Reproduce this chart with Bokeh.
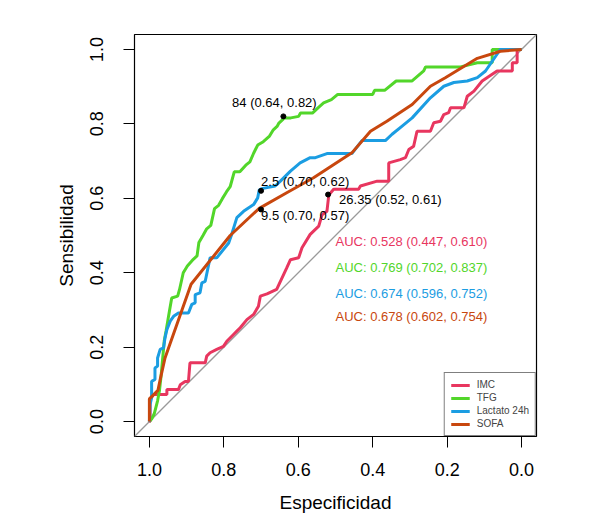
from bokeh.plotting import figure
from bokeh.models import Range1d, FixedTicker, NumeralTickFormatter
from bokeh.embed import file_html
from bokeh.resources import INLINE
from bokeh.core.properties import value

FONT = "Liberation Sans"

# ---- data (specificity, sensitivity) ----
imc_spec = [1.0, 0.998, 0.998, 0.989, 0.953, 0.953, 0.922, 0.917, 0.904, 0.895, 0.891, 0.850, 0.846, 0.837,
            0.819, 0.801, 0.792, 0.774, 0.765, 0.756, 0.738, 0.720, 0.707, 0.702, 0.684, 0.658, 0.648, 0.631,
            0.621, 0.599, 0.590, 0.568, 0.545, 0.536, 0.523, 0.518, 0.505, 0.438, 0.433, 0.388, 0.357, 0.357,
            0.326, 0.312, 0.303, 0.290, 0.281, 0.245, 0.236, 0.218, 0.209, 0.196, 0.191, 0.155, 0.146, 0.128,
            0.106, 0.093, 0.066, 0.025, 0.025, 0.012, 0.012, 0.0]
imc_sens = [0.0, 0.0, 0.059, 0.073, 0.073, 0.086, 0.086, 0.099, 0.108, 0.108, 0.158, 0.158, 0.176, 0.185,
            0.194, 0.202, 0.216, 0.234, 0.243, 0.252, 0.274, 0.288, 0.310, 0.337, 0.343, 0.355, 0.377, 0.413,
            0.435, 0.440, 0.467, 0.503, 0.525, 0.556, 0.565, 0.609, 0.624, 0.624, 0.633, 0.646, 0.646, 0.695,
            0.704, 0.709, 0.731, 0.740, 0.780, 0.780, 0.803, 0.807, 0.825, 0.830, 0.843, 0.843, 0.874, 0.888,
            0.915, 0.924, 0.942, 0.942, 0.964, 0.964, 1.0, 1.0]

tfg_spec = [1.0, 0.994, 0.987, 0.978, 0.973, 0.969, 0.964, 0.960, 0.955, 0.946, 0.940, 0.924, 0.919, 0.909,
            0.898, 0.882, 0.872, 0.867, 0.856, 0.846, 0.835, 0.825, 0.814, 0.804, 0.793, 0.783, 0.772, 0.757,
            0.741, 0.730, 0.720, 0.709, 0.694, 0.678, 0.667, 0.657, 0.652, 0.637, 0.620, 0.599, 0.594, 0.562,
            0.547, 0.532, 0.511, 0.494, 0.400, 0.395, 0.368, 0.337, 0.295, 0.263, 0.258, 0.164, 0.119, 0.079,
            0.079, 0.0]
tfg_sens = [0.0, 0.007, 0.021, 0.056, 0.083, 0.119, 0.173, 0.218, 0.245, 0.298, 0.332, 0.337, 0.355, 0.400,
            0.418, 0.436, 0.445, 0.481, 0.500, 0.518, 0.527, 0.572, 0.581, 0.599, 0.617, 0.631, 0.671, 0.671,
            0.689, 0.698, 0.721, 0.743, 0.752, 0.766, 0.784, 0.793, 0.802, 0.816, 0.816, 0.820, 0.829, 0.829,
            0.843, 0.856, 0.865, 0.879, 0.879, 0.890, 0.890, 0.915, 0.915, 0.942, 0.953, 0.953, 0.964, 0.964,
            1.0, 1.0]

lac_spec = [1.0, 0.998, 0.994, 0.994, 0.985, 0.985, 0.978, 0.978, 0.971, 0.962, 0.958, 0.953, 0.944, 0.935,
            0.922, 0.895, 0.886, 0.877, 0.877, 0.864, 0.859, 0.850, 0.837, 0.819, 0.787, 0.779, 0.765, 0.747,
            0.734, 0.720, 0.709, 0.705, 0.698, 0.662, 0.648, 0.621, 0.595, 0.568, 0.554, 0.523, 0.456, 0.429,
            0.366, 0.348, 0.321, 0.294, 0.245, 0.209, 0.182, 0.146, 0.119, 0.097, 0.066, 0.057, 0.0]
lac_sens = [0.0, 0.046, 0.064, 0.108, 0.113, 0.144, 0.149, 0.171, 0.194, 0.198, 0.225, 0.247, 0.270, 0.283,
            0.292, 0.292, 0.315, 0.319, 0.341, 0.346, 0.373, 0.377, 0.440, 0.440, 0.480, 0.503, 0.548, 0.565,
            0.574, 0.583, 0.601, 0.622, 0.626, 0.633, 0.646, 0.673, 0.695, 0.709, 0.709, 0.720, 0.720, 0.755,
            0.755, 0.772, 0.794, 0.816, 0.870, 0.901, 0.911, 0.915, 0.924, 0.942, 0.987, 1.0, 1.0]

sofa_spec = [1.0, 1.0, 0.977, 0.971, 0.958, 0.888, 0.783, 0.705, 0.631, 0.559, 0.456, 0.406, 0.362, 0.294,
             0.245, 0.205, 0.119, 0.057, 0.0]
sofa_sens = [0.0, 0.061, 0.084, 0.113, 0.171, 0.369, 0.500, 0.573, 0.615, 0.655, 0.722, 0.780, 0.807, 0.852,
             0.901, 0.924, 0.976, 0.995, 1.0]

series_names = ["IMC", "TFG", "Lactato 24h", "SOFA"]
series_colors = ["#E8365F", "#52D62A", "#1B9DE2", "#C8470E"]

auc_labels = ["AUC: 0.528 (0.447, 0.610)", "AUC: 0.769 (0.702, 0.837)",
              "AUC: 0.674 (0.596, 0.752)", "AUC: 0.678 (0.602, 0.754)"]

# threshold points: TFG, Lactato, SOFA, IMC
thr_spec = [0.64, 0.70, 0.70, 0.52]
thr_sens = [0.82, 0.62, 0.57, 0.61]
thr_labels = ["84 (0.64, 0.82)", "2.5 (0.70, 0.62)", "9.5 (0.70, 0.57)", "26.35 (0.52, 0.61)"]

ticks = [0.0, 0.2, 0.4, 0.6, 0.8, 1.0]

# ---- figure ----
p = figure(width=604, height=519, x_range=Range1d(1.04, -0.04), y_range=Range1d(-0.04, 1.04),
           output_backend="svg", toolbar_location=None,
           min_border_left=134, min_border_right=68, min_border_top=34, min_border_bottom=83)
p.xgrid.visible = False
p.ygrid.visible = False
p.outline_line_color = "black"
p.outline_line_width = 1.2
p.background_fill_color = "white"
p.border_fill_color = "white"

# reference diagonal
p.line([1.04, -0.04], [-0.04, 1.04], line_color="#9a9a9a", line_width=1.3)

curves = [(imc_spec, imc_sens), (tfg_spec, tfg_sens), (lac_spec, lac_sens), (sofa_spec, sofa_sens)]
for (xs, ys), name, col in zip(curves, series_names, series_colors):
    p.line(xs, ys, line_color=col, line_width=3, legend_label=name)

# threshold points
p.scatter(thr_spec, thr_sens, size=5, color="black")

# threshold labels
p.text(x=[thr_spec[0]], y=[thr_sens[0]], text=[thr_labels[0]], text_align="center", text_baseline="middle",
       x_offset=-9, y_offset=-14, text_font=value(FONT), text_font_size="13px", text_color="black")
p.text(x=[thr_spec[1]], y=[thr_sens[1]], text=[thr_labels[1]], text_align="left", text_baseline="middle",
       x_offset=0, y_offset=-9, text_font=value(FONT), text_font_size="13px", text_color="black")
p.text(x=[thr_spec[2]], y=[thr_sens[2]], text=[thr_labels[2]], text_align="left", text_baseline="middle",
       x_offset=0, y_offset=6, text_font=value(FONT), text_font_size="13px", text_color="black")
p.text(x=[thr_spec[3]], y=[thr_sens[3]], text=[thr_labels[3]], text_align="left", text_baseline="middle",
       x_offset=11, y_offset=5, text_font=value(FONT), text_font_size="13px", text_color="black")

# AUC labels
auc_x = [0.5, 0.5, 0.5, 0.5]
auc_y = [0.483, 0.413, 0.343, 0.283]
p.text(x=auc_x, y=auc_y, text=auc_labels, text_color=series_colors, text_align="left",
       text_baseline="middle", text_font=value(FONT), text_font_size="13px")

# axes
for ax in (p.xaxis[0], p.yaxis[0]):
    ax.ticker = FixedTicker(ticks=ticks)
    ax.formatter = NumeralTickFormatter(format="0.0")
    ax.axis_line_color = None
    ax.major_tick_line_color = "black"
    ax.major_tick_line_width = 1
    ax.major_tick_out = 11
    ax.major_tick_in = 0
    ax.minor_tick_line_color = None
    ax.major_label_text_font = FONT
    ax.major_label_text_font_size = "18px"
    ax.major_label_text_color = "black"
    ax.axis_label_text_font = FONT
    ax.axis_label_text_font_size = "19px"
    ax.axis_label_text_font_style = "normal"
    ax.axis_label_text_color = "black"

p.xaxis.axis_label = "Especificidad"
p.yaxis.axis_label = "Sensibilidad"
p.xaxis.major_label_standoff = 15
p.xaxis.axis_label_standoff = 13
p.yaxis.major_label_orientation = "vertical"
p.yaxis.major_label_standoff = 20
p.yaxis.axis_label_standoff = 11

# legend
lg = p.legend[0]
lg.location = "bottom_right"
lg.margin = 0
lg.padding = 6
lg.border_line_color = "black"
lg.border_line_width = 1
lg.label_text_font = FONT
lg.label_text_font_size = "10px"
lg.glyph_width = 19
lg.glyph_height = 10
lg.label_height = 10
lg.spacing = 2
lg.label_standoff = 7
lg.background_fill_alpha = 1.0

open("out.html", "w").write(file_html(p, INLINE))
